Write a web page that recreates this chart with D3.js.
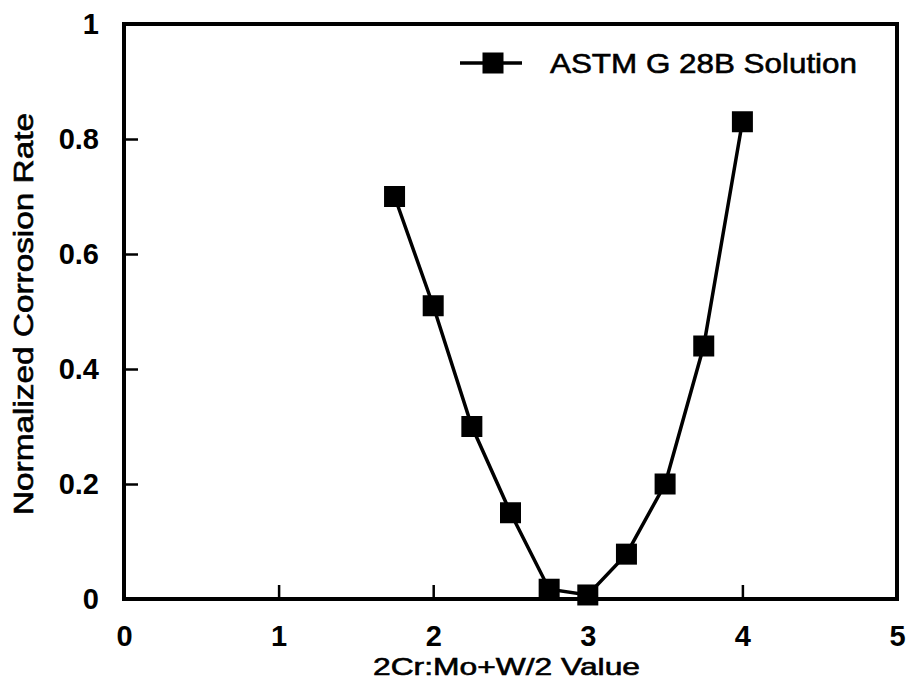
<!DOCTYPE html>
<html>
<head>
<meta charset="utf-8">
<script src="https://cdn.jsdelivr.net/npm/d3@7"></script>
<style>
    body { margin: 0; background: #fff; }
    svg { display: block; }
</style>
</head>
<body>
<svg width="908" height="699"></svg>
<script>
// データ
var ratio_vals = [1.75, 2.0, 2.25, 2.5, 2.75, 3.0, 3.25, 3.5, 3.75, 4.0];
var rate_vals  = [0.70, 0.51, 0.30, 0.15, 0.017, 0.007, 0.078, 0.20, 0.44, 0.83];
var x_ticks = [0, 1, 2, 3, 4, 5];
var y_ticks = [0, 0.2, 0.4, 0.6, 0.8, 1];
var series_name = "ASTM G 28B Solution";
var x_title = "2Cr:Mo+W/2 Value";
var y_title = "Normalized Corrosion Rate";

var points = ratio_vals.map(function(v, i){ return {x: v, y: rate_vals[i]}; });

// 描画領域
var svg = d3.select("svg")
    .style("font-family", "'Liberation Sans', Arial, Helvetica, sans-serif")
;
var left = 124, right = 897, top_ = 24, bottom = 599;

var xs = d3.scaleLinear().domain([0, 5]).range([left, right]);
var ys = d3.scaleLinear().domain([0, 1]).range([bottom, top_]);

// 軸 (目盛りは内向き)
var x_axis = svg.append("g")
    .attr("transform", "translate(0," + bottom + ")")
    .call(d3.axisBottom(xs).tickValues(x_ticks).tickFormat(d3.format("d"))
        .tickSizeInner(-14).tickSizeOuter(0).tickPadding(26))
;
var y_axis = svg.append("g")
    .attr("transform", "translate(" + left + ",0)")
    .call(d3.axisLeft(ys).tickValues(y_ticks).tickFormat(function(d){ return d==0||d==1 ? d3.format("d")(d) : d3.format(".1f")(d); })
        .tickSizeInner(-14).tickSizeOuter(0).tickPadding(25))
;
[x_axis, y_axis].forEach(function(ax){
    ax.select(".domain").remove();
    ax.selectAll("line").attr("stroke", "#000").attr("stroke-width", 2.5);
    ax.selectAll("text")
        .attr("fill", "#000")
        .style("font-size", "29px")
        .style("font-weight", "bold")
        .style("font-family", "'Liberation Sans', Arial, sans-serif");
});
// 端の目盛り線は枠と重なるので消す
x_axis.selectAll(".tick").filter(function(d){ return d==0 || d==5; }).select("line").remove();
y_axis.selectAll(".tick").filter(function(d){ return d==0 || d==1; }).select("line").remove();

// 枠
svg.append("rect")
    .attr("x", left)
    .attr("y", top_)
    .attr("width", right - left)
    .attr("height", bottom - top_)
    .attr("fill", "none")
    .attr("stroke", "#000")
    .attr("stroke-width", 4)
;

// 折れ線
var line = d3.line()
    .x(function(d){ return xs(d.x); })
    .y(function(d){ return ys(d.y); })
;
svg.append("path")
    .datum(points)
    .attr("d", line)
    .attr("fill", "none")
    .attr("stroke", "#000")
    .attr("stroke-width", 3.5)
;
var msize = 21;
svg.selectAll(".marker")
    .data(points)
    .enter()
    .append("rect")
    .attr("class", "marker")
    .attr("x", function(d){ return xs(d.x) - msize/2; })
    .attr("y", function(d){ return ys(d.y) - msize/2; })
    .attr("width", msize)
    .attr("height", msize)
    .attr("fill", "#000")
;

// 凡例
var lg = svg.append("g");
lg.append("line")
    .attr("x1", 460).attr("x2", 522)
    .attr("y1", 63).attr("y2", 63)
    .attr("stroke", "#000")
    .attr("stroke-width", 3.5)
;
lg.append("rect")
    .attr("x", 493 - msize/2).attr("y", 63 - msize/2)
    .attr("width", msize).attr("height", msize)
    .attr("fill", "#000")
;
lg.append("text")
    .attr("x", 550)
    .attr("y", 73)
    .attr("textLength", 307)
    .attr("lengthAdjust", "spacingAndGlyphs")
    .style("font-size", "28px")
    .attr("fill", "#000")
    .attr("stroke", "#000")
    .attr("stroke-width", 0.6)
    .text(series_name)
;

// 軸タイトル
svg.append("text")
    .attr("x", 373)
    .attr("y", 675)
    .attr("textLength", 267)
    .attr("lengthAdjust", "spacingAndGlyphs")
    .style("font-size", "24px")
    .attr("fill", "#000")
    .attr("stroke", "#000")
    .attr("stroke-width", 0.6)
    .text(x_title)
;
svg.append("text")
    .attr("transform", "translate(33,515) rotate(-90)")
    .attr("x", 0)
    .attr("y", 0)
    .attr("textLength", 402)
    .attr("lengthAdjust", "spacingAndGlyphs")
    .style("font-size", "27px")
    .attr("fill", "#000")
    .attr("stroke", "#000")
    .attr("stroke-width", 0.6)
    .text(y_title)
;
</script>
</body>
</html>
